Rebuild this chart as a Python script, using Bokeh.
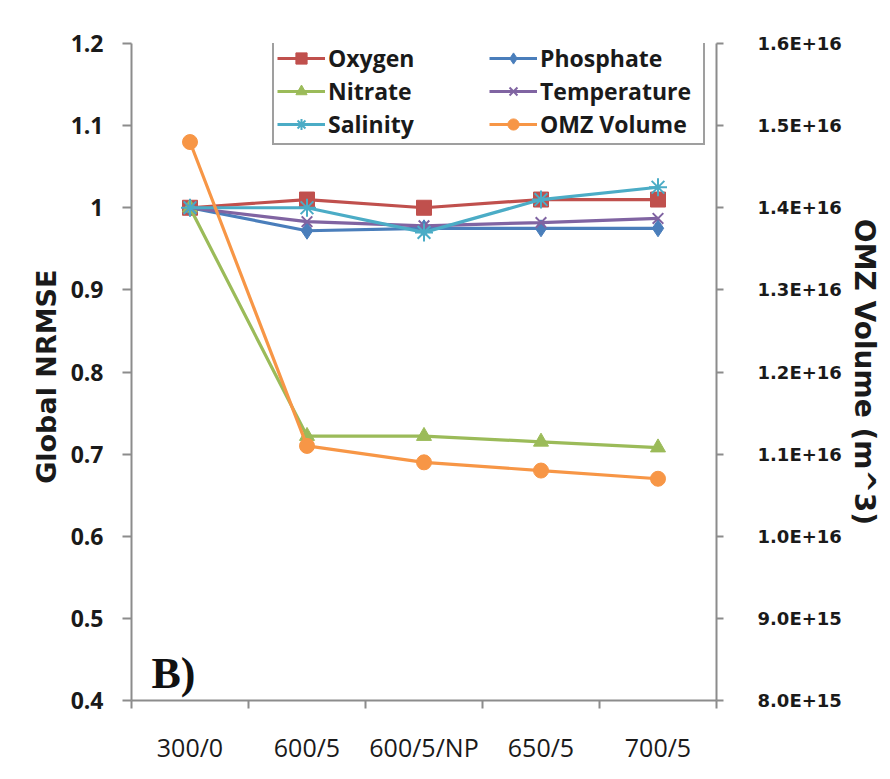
from bokeh.plotting import figure
from bokeh.models import (Range1d, LinearAxis, FixedTicker, CustomJSTickFormatter,
                          Legend, LegendItem, Label)
from bokeh.embed import file_html
from bokeh.resources import INLINE

# Model configurations (resolution / setting)
CATEGORIES = ["300/0", "600/5", "600/5/NP", "650/5", "700/5"]

# Global NRMSE per variable (left axis)
OXYGEN = [1.000, 1.010, 1.000, 1.010, 1.010]
PHOSPHATE = [1.000, 0.972, 0.975, 0.975, 0.975]
NITRATE = [1.000, 0.722, 0.722, 0.715, 0.708]
TEMPERATURE = [1.000, 0.983, 0.978, 0.982, 0.987]
SALINITY = [1.000, 1.000, 0.970, 1.010, 1.025]

# OMZ volume in m^3 (right axis)
OMZ_VOLUME = [1.48e16, 1.11e16, 1.09e16, 1.08e16, 1.07e16]

LEFT_TICKS = [0.4, 0.5, 0.6, 0.7, 0.8, 0.9, 1.0, 1.1, 1.2]
RIGHT_TICKS = [8e15, 9e15, 1.0e16, 1.1e16, 1.2e16, 1.3e16, 1.4e16, 1.5e16, 1.6e16]

AXIS_GRAY = "#8c8c8c"
TEXT = "#1a1a1a"

xs = [i + 0.5 for i in range(len(CATEGORIES))]

p = figure(width=890, height=779, output_backend="svg", toolbar_location=None,
           x_range=Range1d(0, len(CATEGORIES)),
           y_range=Range1d(LEFT_TICKS[0], LEFT_TICKS[-1]),
           min_border_left=131, min_border_right=174,
           min_border_top=43, min_border_bottom=79,
           background_fill_color="white", border_fill_color="white")
p.outline_line_color = None
p.xgrid.visible = False
p.ygrid.visible = False
p.extra_y_ranges = {"omz": Range1d(RIGHT_TICKS[0], RIGHT_TICKS[-1])}

# x axis: labels centred on categories, tick marks between them
xax = p.xaxis[0]
xax.ticker = FixedTicker(ticks=xs, minor_ticks=list(range(len(CATEGORIES) + 1)))
xax.formatter = CustomJSTickFormatter(args=dict(cats=CATEGORIES),
                                      code="return cats[Math.floor(tick)];")
xax.major_tick_out = 0
xax.major_tick_in = 0
xax.minor_tick_out = 8
xax.minor_tick_in = 0
xax.minor_tick_line_color = AXIS_GRAY
xax.minor_tick_line_width = 2
xax.axis_line_color = AXIS_GRAY
xax.axis_line_width = 2
xax.major_label_standoff = 21
xax.major_label_text_font = "Open Sans"
xax.major_label_text_font_size = "25px"
xax.major_label_text_color = TEXT

# left axis
yax = p.yaxis[0]
yax.ticker = FixedTicker(ticks=LEFT_TICKS)
yax.formatter = CustomJSTickFormatter(code="return String(Math.round(tick * 10) / 10);")
yax.axis_label = "Global  NRMSE"
yax.axis_label_text_font = "DejaVu Sans"
yax.axis_label_text_font_style = "bold"
yax.axis_label_text_font_size = "27px"
yax.axis_label_text_color = TEXT
yax.axis_label_standoff = 6
yax.major_label_text_font = "Open Sans"
yax.major_label_text_font_style = "bold"
yax.major_label_text_font_size = "23px"
yax.major_label_text_color = TEXT
yax.major_label_standoff = 19
yax.major_tick_out = 9
yax.major_tick_in = 0
yax.minor_tick_line_color = None
yax.axis_line_color = AXIS_GRAY
yax.axis_line_width = 2
yax.major_tick_line_color = AXIS_GRAY
yax.major_tick_line_width = 2

# right axis for OMZ volume
rax = LinearAxis(y_range_name="omz")
rax.ticker = FixedTicker(ticks=RIGHT_TICKS)
rax.formatter = CustomJSTickFormatter(code="""
const e = Math.floor(Math.log10(tick) + 1e-9);
const m = tick / Math.pow(10, e);
return m.toFixed(1) + "E+" + e;
""")
rax.axis_label = "OMZ Volume (m^3)"
rax.axis_label_text_font = "DejaVu Sans"
rax.axis_label_text_font_style = "bold"
rax.axis_label_text_font_size = "28px"
rax.axis_label_text_color = TEXT
rax.axis_label_standoff = 3
rax.major_label_text_font = "DejaVu Sans"
rax.major_label_text_font_style = "bold"
rax.major_label_text_font_size = "18px"
rax.major_label_text_color = TEXT
rax.major_label_standoff = 34
rax.major_tick_out = 7
rax.major_tick_in = 0
rax.minor_tick_line_color = None
rax.axis_line_color = AXIS_GRAY
rax.axis_line_width = 2
rax.major_tick_line_color = AXIS_GRAY
rax.major_tick_line_width = 2
p.add_layout(rax, "right")

series = {
    "Oxygen": (OXYGEN, "#C0504D", "square", 15, "default"),
    "Phosphate": (PHOSPHATE, "#4A7EBB", "diamond", 17, "default"),
    "Nitrate": (NITRATE, "#9BBB59", "triangle", 15, "default"),
    "Temperature": (TEMPERATURE, "#8064A2", "x", 15, "default"),
    "Salinity": (SALINITY, "#4BACC6", "asterisk", 18, "default"),
    "OMZ Volume": (OMZ_VOLUME, "#F79646", "circle", 15, "omz"),
}

items = {}
for name, (vals, color, marker, size, rng) in series.items():
    ln = p.line(xs, vals, line_color=color, line_width=3.2, y_range_name=rng)
    if marker in ("x", "asterisk"):
        mk = p.scatter(xs, vals, marker=marker, size=size, line_color=color,
                       line_width=2, y_range_name=rng)
    else:
        mk = p.scatter(xs, vals, marker=marker, size=size, fill_color=color,
                       line_color=color, y_range_name=rng)
    items[name] = LegendItem(label=name, renderers=[ln, mk])

# two columns, filled column by column
legend_order = ["Oxygen", "Nitrate", "Salinity", "Phosphate", "Temperature", "OMZ Volume"]
legend = Legend(items=[items[k] for k in legend_order], ncols=2,
                location=(141, 555), margin=0,
                padding=3, spacing=1, glyph_width=48, glyph_height=28,
                label_height=28, label_width=160, label_standoff=3,
                label_text_font="Open Sans", label_text_font_style="bold",
                label_text_font_size="23px", label_text_color=TEXT,
                border_line_color="#404040", border_line_width=2,
                background_fill_color="white", background_fill_alpha=1.0)
p.add_layout(legend, "center")

p.add_layout(Label(x=20, y=27, x_units="screen", y_units="screen", text="B)",
                   text_font="Liberation Serif", text_font_style="bold",
                   text_font_size="44px", text_color="#111111",
                   text_baseline="alphabetic"))

open("out.html", "w").write(file_html(p, INLINE))
